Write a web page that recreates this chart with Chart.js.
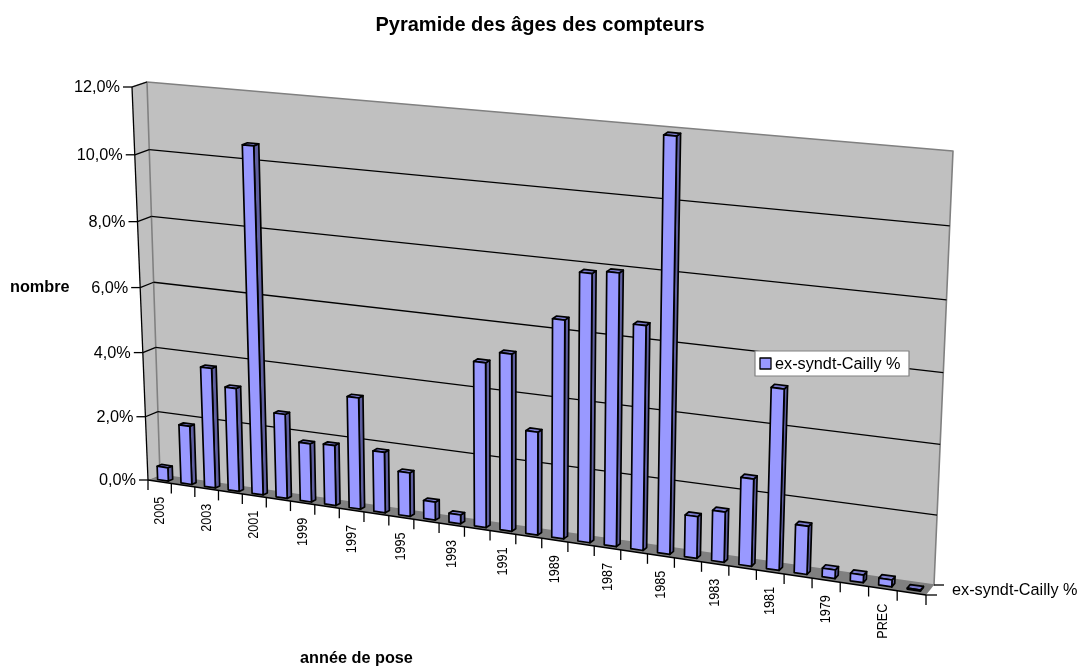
<!DOCTYPE html>
<html>
<head>
<meta charset="utf-8">
<title>Pyramide des âges des compteurs</title>
<script src="https://cdn.jsdelivr.net/npm/chart.js@4/dist/chart.umd.min.js"></script>
<style>
html, body { margin: 0; padding: 0; background: #fff; overflow: hidden; }
#chart { display: block; }
</style>
</head>
<body>
<canvas id="chart" width="1080" height="667"></canvas>
<script>
const years = ['2005', '2004', '2003', '2002', '2001', '2000', '1999', '1998', '1997', '1996',
    '1995', '1994', '1993', '1992', '1991', '1990', '1989', '1988', '1987', '1986',
    '1985', '1984', '1983', '1982', '1981', '1980', '1979', '1978', 'PREC', ''];
const percents = [0.42, 1.83, 3.72, 3.2, 10.55, 2.6, 1.8, 1.85, 3.4, 1.85,
    1.33, 0.55, 0.27, 4.93, 5.28, 3.08, 6.45, 7.87, 7.97, 6.56,
    11.93, 1.23, 1.48, 2.55, 5.23, 1.4, 0.25, 0.22, 0.2, 0.03];
const seriesName = 'ex-syndt-Cailly %';
const chartTitle = 'Pyramide des âges des compteurs';
const yTitle = 'nombre';
const xTitle = 'année de pose';

const FONT = '"Liberation Sans", Arial, sans-serif';
const FONT_SIZE = 16.25;

// Picture corners of the 3D box
const frontQuad = { tl: [132, 87], tr: [945, 160], br: [926, 595], bl: [148, 480] };
const backQuad = { tl: [147, 82], tr: [953, 151], br: [934, 585], bl: [160, 475] };
const BAR_D0 = 0.28;
const BAR_D1 = 0.64;

// unit square -> quad, returns (u, v) => [x, y], v = 0 at the bottom
function makeHomography(q) {
    const [x0, y0] = q.bl, [x1, y1] = q.br, [x2, y2] = q.tr, [x3, y3] = q.tl;
    const dx1 = x1 - x2, dx2 = x3 - x2, sx = x0 - x1 + x2 - x3;
    const dy1 = y1 - y2, dy2 = y3 - y2, sy = y0 - y1 + y2 - y3;
    const det = dx1 * dy2 - dx2 * dy1;
    const g = (sx * dy2 - dx2 * sy) / det;
    const h = (dx1 * sy - sx * dy1) / det;
    const a = x1 - x0 + g * x1, b = x3 - x0 + h * x3;
    const d = y1 - y0 + g * y1, e = y3 - y0 + h * y3;
    return (u, v) => {
        const w = g * u + h * v + 1;
        return [(a * u + b * v + x0) / w, (d * u + e * v + y0) / w];
    };
}
const frontPlane = makeHomography(frontQuad);
const backPlane = makeHomography(backQuad);

// u along the categories, v up the value axis, depth 0 = front, 1 = back
function project(u, v, depth) {
    const f = frontPlane(u, v);
    const b = backPlane(u, v);
    return [f[0] + (b[0] - f[0]) * depth, f[1] + (b[1] - f[1]) * depth];
}

function poly(ctx, pts, fill, stroke, lineWidth) {
    ctx.beginPath();
    pts.forEach((p, i) => (i ? ctx.lineTo(p[0], p[1]) : ctx.moveTo(p[0], p[1])));
    ctx.closePath();
    if (fill) {
        ctx.fillStyle = fill;
        ctx.fill();
    }
    if (stroke) {
        ctx.strokeStyle = stroke;
        ctx.lineWidth = lineWidth || 1;
        ctx.stroke();
    }
}

function line(ctx, a, b, color, lineWidth) {
    ctx.beginPath();
    ctx.moveTo(a[0], a[1]);
    ctx.lineTo(b[0], b[1]);
    ctx.strokeStyle = color;
    ctx.lineWidth = lineWidth || 1;
    ctx.stroke();
}

const box3d = {
    id: 'box3d',
    beforeDatasetsDraw(chart) {
        const ctx = chart.ctx;
        const area = chart.chartArea;
        const xs = chart.scales.x;
        const ys = chart.scales.y;
        const toU = (px) => (px - area.left) / area.width;
        const toV = (py) => (area.bottom - py) / area.height;

        ctx.save();
        ctx.lineJoin = 'round';

        // walls and floor
        poly(ctx, [project(0, 0, 0), project(0, 1, 0), project(0, 1, 1), project(0, 0, 1)], '#c0c0c0');
        poly(ctx, [project(0, 0, 1), project(0, 1, 1), project(1, 1, 1), project(1, 0, 1)], '#c0c0c0', '#808080', 1.6);
        poly(ctx, [project(0, 0, 0), project(0, 0, 1), project(1, 0, 1), project(1, 0, 0)], '#808080');
        line(ctx, project(0, 1, 0), project(0, 1, 1), '#808080', 1.6);

        // value axis: grid on the walls, stubs and labels on the front edge
        ctx.font = FONT_SIZE + 'px ' + FONT;
        ctx.fillStyle = '#000';
        ctx.textAlign = 'right';
        ctx.textBaseline = 'middle';
        ys.ticks.forEach((tick, i) => {
            const v = toV(ys.getPixelForTick(i));
            const edge = project(0, v, 0);
            if (v > 0) {
                line(ctx, edge, project(0, v, 1), '#000', 1.3);
            }
            if (v > 0 && v < 1) {
                line(ctx, project(0, v, 1), project(1, v, 1), '#000', 1.3);
            }
            line(ctx, [edge[0] - 9, edge[1]], edge, '#000', 1.3);
            ctx.fillStyle = '#000';
            ctx.fillText(tick.label, edge[0] - 12, edge[1] + 1);
        });
        line(ctx, project(0, 0, 0), project(0, 1, 0), '#000', 1.3);
        line(ctx, project(0, 0, 0), project(1, 0, 0), '#000', 1.7);

        // category axis: stubs between the bars, every second label
        const n = xs.ticks.length;
        for (let i = 0; i <= n; i++) {
            const p = project(i / n, 0, 0);
            line(ctx, p, [p[0], p[1] + 10], '#000', 1.3);
        }
        ctx.textAlign = 'right';
        ctx.textBaseline = 'middle';
        xs.ticks.forEach((tick, i) => {
            if (!tick.label) return;
            const p = project(toU(xs.getPixelForTick(i)), 0, 0);
            ctx.save();
            ctx.translate(p[0], p[1] + 15);
            ctx.rotate(-Math.PI / 2);
            // side labels are squeezed along their length in the original
            ctx.scale(0.84, 1);
            ctx.font = '15px ' + FONT;
            ctx.fillStyle = '#000';
            ctx.fillText(tick.label, 0, 0);
            ctx.restore();
        });

        // series axis at the right end of the floor
        const fr = project(1, 0, 0);
        const br = project(1, 0, 1);
        line(ctx, fr, [fr[0] + 11, fr[1]], '#000', 1.3);
        line(ctx, br, [br[0] + 10, br[1]], '#000', 1.3);
        ctx.textAlign = 'left';
        ctx.fillStyle = '#000';
        ctx.fillText(seriesName, 952, 591);

        // bars, from the elements laid out by the scales
        chart.getDatasetMeta(0).data.forEach((bar) => {
            const u0 = toU(bar.x - bar.width / 2);
            const u1 = toU(bar.x + bar.width / 2);
            const top = toV(bar.y);
            const bottom = toV(bar.base);
            const front = [project(u0, bottom, BAR_D0), project(u1, bottom, BAR_D0), project(u1, top, BAR_D0), project(u0, top, BAR_D0)];
            const side = [project(u1, bottom, BAR_D0), project(u1, bottom, BAR_D1), project(u1, top, BAR_D1), project(u1, top, BAR_D0)];
            const lid = [project(u0, top, BAR_D0), project(u1, top, BAR_D0), project(u1, top, BAR_D1), project(u0, top, BAR_D1)];
            poly(ctx, side, '#5f5fa0', '#000', 1.7);
            poly(ctx, lid, '#7a7acc', '#000', 1.7);
            poly(ctx, front, '#9999ff', '#000', 1.7);
        });

        // legend box
        poly(ctx, [[755, 351], [909, 351], [909, 376], [755, 376]], '#fff', '#808080', 1.2);
        poly(ctx, [[760, 358], [771, 358], [771, 369], [760, 369]], '#9999ff', '#000', 1.3);
        ctx.fillStyle = '#000';
        ctx.textAlign = 'left';
        ctx.fillText(seriesName, 775, 365);

        // axis titles
        ctx.font = 'bold ' + FONT_SIZE + 'px ' + FONT;
        ctx.textAlign = 'left';
        ctx.fillText(yTitle, 10, 288);
        ctx.fillText(xTitle, 300, 659);

        ctx.restore();
        return false;
    },
};

new Chart(document.getElementById('chart').getContext('2d'), {
    type: 'bar',
    data: {
        labels: years,
        datasets: [{
            label: seriesName,
            data: percents,
            backgroundColor: '#9999ff',
            borderColor: '#000',
            categoryPercentage: 1,
            barPercentage: 0.46,
        }],
    },
    options: {
        responsive: false,
        animation: false,
        plugins: {
            legend: { display: false },
            tooltip: { enabled: false },
            title: {
                display: true,
                text: chartTitle,
                color: '#000',
                font: { family: FONT, size: 20, weight: 'bold' },
                padding: { top: 13, bottom: 10 },
            },
        },
        scales: {
            x: {
                grid: { display: false },
                border: { display: false },
                ticks: {
                    display: false,
                    autoSkip: false,
                    callback(value, index) {
                        return index % 2 ? '' : this.getLabelForValue(value);
                    },
                },
            },
            y: {
                min: 0,
                max: 12,
                grid: { display: false },
                border: { display: false },
                ticks: {
                    display: false,
                    stepSize: 2,
                    callback: (value) => value.toFixed(1).replace('.', ',') + '%',
                },
            },
        },
    },
    plugins: [box3d],
});
</script>
</body>
</html>
